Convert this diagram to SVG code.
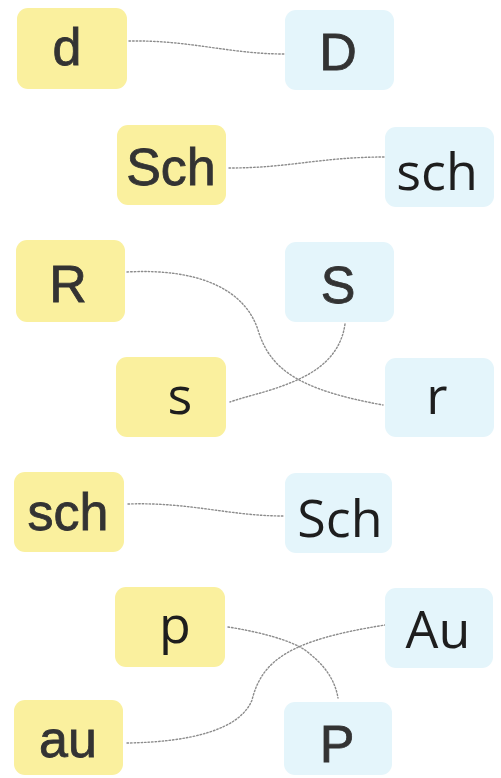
<svg xmlns="http://www.w3.org/2000/svg" width="501" height="778" viewBox="0 0 501 778">
<style>
.y{fill:#faf09e}
.b{fill:#e4f5fb}
.t{font-family:"Liberation Sans",Arial,sans-serif;font-size:52px;fill:#333333;stroke:#333333;stroke-width:0.8;text-anchor:middle}
.h{font-family:"Open Sans","DejaVu Sans",sans-serif;font-weight:400;font-size:52px;fill:#1e1e1e;text-anchor:middle}
.c{fill:none;stroke:#8c8c8c;stroke-width:1.4;stroke-dasharray:1.5 2;stroke-linecap:round}
</style>
<rect width="501" height="778" fill="#ffffff"/>
<g id="connectors">
<path class="c" d="M129,41 C190,40 230,54 284,54"/>
<path class="c" d="M229,168 C290,168 320,157 385,157"/>
<path class="c" d="M127,272 C200,268 245,290 258,330 C270,370 300,390 383,405"/>
<path class="c" d="M345,324 C340,360 310,375 290,383 C265,393 250,395 230,402"/>
<path class="c" d="M128,504 C190,502 230,516 283,516"/>
<path class="c" d="M228,627 C260,632 290,640 305,650 C325,665 335,680 338,698"/>
<path class="c" d="M127,743 C190,742 240,730 252,700 C262,660 290,640 385,625"/>
</g>
<g id="n-d"><rect class="y" x="17" y="8" width="110" height="81" rx="11"/><text class="t" x="67" y="65">d</text></g>
<g id="n-D"><rect class="b" x="285" y="10" width="109" height="80" rx="11"/><text class="t" x="338" y="70">D</text></g>
<g id="n-Sch1"><rect class="y" x="117" y="125" width="109" height="80" rx="11"/><text class="t" x="171" y="185">Sch</text></g>
<g id="n-sch1"><rect class="b" x="385" y="127" width="109" height="80" rx="11"/><text class="h" x="437" y="190">sch</text></g>
<g id="n-R"><rect class="y" x="16" y="240" width="109" height="82" rx="11"/><text class="t" x="68" y="302">R</text></g>
<g id="n-S"><rect class="b" x="285" y="242" width="109" height="80" rx="11"/><text class="t" x="338" y="303">S</text></g>
<g id="n-s"><rect class="y" x="116" y="357" width="110" height="80" rx="11"/><text class="h" x="180" y="414">s</text></g>
<g id="n-r"><rect class="b" x="385" y="358" width="109" height="79" rx="11"/><text class="h" x="437" y="414">r</text></g>
<g id="n-sch2"><rect class="y" x="14" y="472" width="110" height="80" rx="11"/><text class="t" x="68" y="530">sch</text></g>
<g id="n-Sch2"><rect class="b" x="285" y="473" width="107" height="80" rx="11"/><text class="h" x="340" y="537">Sch</text></g>
<g id="n-p"><rect class="y" x="115" y="587" width="110" height="80" rx="11"/><text class="h" x="175" y="643">p</text></g>
<g id="n-Au"><rect class="b" x="385" y="588" width="108" height="80" rx="11"/><text class="h" x="438" y="648">Au</text></g>
<g id="n-au"><rect class="y" x="14" y="700" width="109" height="75" rx="11"/><text class="t" x="68" y="757">au</text></g>
<g id="n-P"><rect class="b" x="284" y="702" width="108" height="73" rx="11"/><text class="t" x="337" y="762">P</text></g>
</svg>
